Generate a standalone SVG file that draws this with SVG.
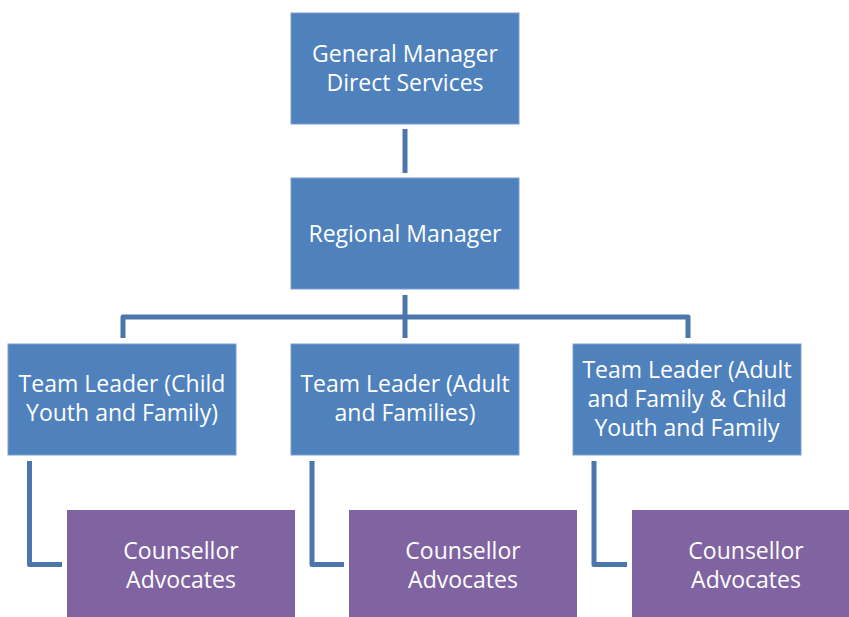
<svg xmlns="http://www.w3.org/2000/svg" width="849" height="617" viewBox="0 0 849 617">
<style>
.b{fill:#4F81BD;stroke:#7A9FD0;stroke-width:1}
.p{fill:#8064A2}
.t{font-family:"Open Sans","Liberation Sans",sans-serif;font-size:23px;fill:#FFFFFF;text-anchor:middle}
.c{fill:none;stroke:#4A76AC;stroke-width:5;stroke-linejoin:round}
</style>
<rect width="849" height="617" fill="#FFFFFF"/>
<g id="connectors">
<path class="c" d="M405,129 V173"/>
<path class="c" d="M405,295 V338 M123,338 V317 H688 V338"/>
<path class="c" d="M29.5,461 V564.5 H62"/>
<path class="c" d="M312,461 V564.5 H344"/>
<path class="c" d="M594,461 V564.5 H627"/>
</g>
<g id="gm">
<rect class="b" x="291" y="13" width="228" height="111"/>
<text class="t" x="405" y="62">General Manager</text>
<text class="t" x="405" y="91">Direct Services</text>
</g>
<g id="rm">
<rect class="b" x="291" y="178" width="228" height="111"/>
<text class="t" x="405" y="242">Regional Manager</text>
</g>
<g id="tl1">
<rect class="b" x="8" y="344" width="228" height="111"/>
<text class="t" x="122" y="392">Team Leader (Child</text>
<text class="t" x="122" y="421">Youth and Family)</text>
</g>
<g id="tl2">
<rect class="b" x="291" y="344" width="228" height="111"/>
<text class="t" x="405" y="392">Team Leader (Adult</text>
<text class="t" x="405" y="421">and Families)</text>
</g>
<g id="tl3">
<rect class="b" x="573" y="344" width="228" height="111"/>
<text class="t" x="687" y="378">Team Leader (Adult</text>
<text class="t" x="687" y="407">and Family &amp; Child</text>
<text class="t" x="687" y="436">Youth and Family</text>
</g>
<g id="ca1">
<rect class="p" x="67" y="510" width="228" height="111"/>
<text class="t" x="181" y="559">Counsellor</text>
<text class="t" x="181" y="588">Advocates</text>
</g>
<g id="ca2">
<rect class="p" x="349" y="510" width="228" height="111"/>
<text class="t" x="463" y="559">Counsellor</text>
<text class="t" x="463" y="588">Advocates</text>
</g>
<g id="ca3">
<rect class="p" x="632" y="510" width="228" height="111"/>
<text class="t" x="746" y="559">Counsellor</text>
<text class="t" x="746" y="588">Advocates</text>
</g>
</svg>
